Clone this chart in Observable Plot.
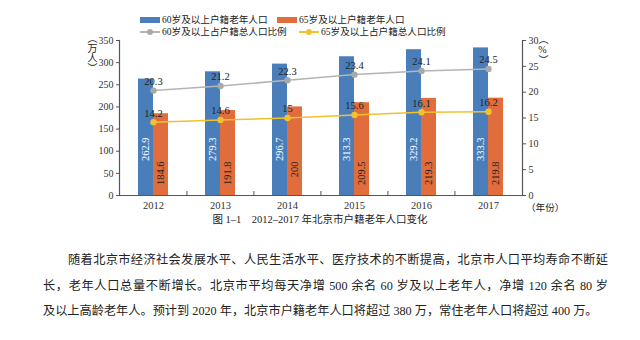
<!DOCTYPE html>
<html><head><meta charset="utf-8">
<script src="https://cdn.jsdelivr.net/npm/d3@7"></script>
<script src="https://cdn.jsdelivr.net/npm/@observablehq/plot@0.6"></script>
<style>
body{margin:0;background:#fff;width:640px;height:340px;position:relative;overflow:hidden;font-family:"Liberation Serif","Noto Sans CJK SC",serif;color:#222}
.abs{position:absolute;white-space:nowrap}
.leg{font-size:9.6px;line-height:12px}
.sw{position:absolute;width:20px;height:6px}
.ln{position:absolute;width:20px;height:1.5px}
.dt{position:absolute;width:6px;height:6px;border-radius:50%;left:7px;top:-2.3px}
.vert{writing-mode:vertical-rl;text-orientation:upright;font-size:10px;line-height:10px}
.para{position:absolute;left:43px;width:565px;font-size:12.2px;text-align:justify;text-align-last:justify;white-space:nowrap;color:#222}
</style></head>
<body>
<div id="chart" class="abs" style="left:0;top:0"></div>
<div id="legend"></div>
<div class="abs vert" style="left:86px;top:33px">（万人）</div>
<div class="abs vert" style="left:537px;top:34px">（%）</div>
<div class="abs" style="left:526px;top:200px;font-size:9.6px">（年份）</div>
<div class="abs" style="left:0;width:640px;top:211px;text-align:center;font-size:10.5px">图 1–1　2012–2017 年北京市户籍老年人口变化</div>
<div class="para" style="top:250px;left:68px;width:540px">随着北京市经济社会发展水平、人民生活水平、医疗技术的不断提高，北京市人口平均寿命不断延</div>
<div class="para" style="top:276px">长，老年人口总量不断增长。北京市平均每天净增 500 余名 60 岁及以上老年人，净增 120 余名 80 岁</div>
<div class="para" style="top:301px;text-align-last:left;width:auto">及以上高龄老年人。预计到 2020 年，北京市户籍老年人口将超过 380 万，常住老年人口将超过 400 万。</div>
<script>
const years = ["2012","2013","2014","2015","2016","2017"];
const pop60 = [262.9, 279.3, 296.7, 313.3, 329.2, 333.3];
const pop65 = [184.6, 191.8, 200, 209.5, 219.3, 219.8];
const pct60 = [20.3, 21.2, 22.3, 23.4, 24.1, 24.5];
const pct65 = [14.2, 14.6, 15, 15.6, 16.1, 16.2];
const seriesNames = ["60岁及以上户籍老年人口","65岁及以上户籍老年人口","60岁及以上占户籍总人口比例","65岁及以上占户籍总人口比例"];
const leftTicks = [0,50,100,150,200,250,300,350];
const rightTicks = [0,5,10,15,20,25,30];

const BLUE="#4a7ebb", ORANGE="#e06d3b", GRAY="#b4b4b4", GRAYDOT="#a9a9a9", YELLOW="#f2c12e";
const YMAX=350, PMAX=30, k=YMAX/PMAX;

const d60 = years.map((y,i)=>({year:y, v:pop60[i]}));
const d65 = years.map((y,i)=>({year:y, v:pop65[i]}));
const p60 = years.map((y,i)=>({year:y, v:pct60[i]}));
const p65 = years.map((y,i)=>({year:y, v:pct65[i]}));

const W=640, ML=119, MR=118, step=(W-ML-MR)/years.length, pad=0.553, half=step*(1-pad)/2;

const chart = Plot.plot({
  width: W, height: 215, marginTop: 40, marginBottom: 20, marginLeft: ML, marginRight: MR,
  style: {fontFamily: '"Liberation Serif","Noto Sans CJK SC",serif', fontSize: "10.5px", background: "transparent", color: "#333"},
  x: {type: "band", domain: years, paddingInner: pad, paddingOuter: pad/2, axis: null},
  y: {domain: [0, YMAX], axis: null},
  marks: [
    Plot.barY(d60, {x: "year", y: "v", fill: BLUE, insetRight: half}),
    Plot.barY(d65, {x: "year", y: "v", fill: ORANGE, insetLeft: half}),
    Plot.text(d60, {x: "year", y: () => 131, text: d => String(d.v), rotate: -90, textAnchor: "end", dx: -half/2, fill: "white", fontSize: 10.5}),
    Plot.text(d65, {x: "year", y: () => 77, text: d => String(d.v), rotate: -90, textAnchor: "end", dx: half/2, fill: "#222", fontSize: 10.5}),
    Plot.line(p60, {x: "year", y: d => d.v*k, stroke: GRAY, strokeWidth: 1.5}),
    Plot.dot(p60, {x: "year", y: d => d.v*k, r: 3.2, fill: GRAYDOT}),
    Plot.line(p65, {x: "year", y: d => d.v*k, stroke: YELLOW, strokeWidth: 1.5}),
    Plot.dot(p65, {x: "year", y: d => d.v*k, r: 3.2, fill: YELLOW}),
    Plot.text(p60, {x: "year", y: d => d.v*k, text: d => String(d.v), dy: -9, fill: "#222", fontSize: 10.5}),
    Plot.text(p65, {x: "year", y: d => d.v*k, text: d => String(d.v), dy: -9, fill: "#222", fontSize: 10.5}),
    Plot.ruleY([0], {stroke: "#555", strokeWidth: 1.2}),
    Plot.ruleX(years.slice(1), {x: d => d, dx: -step/2, y1: 0, y2: 4*YMAX/155, stroke: "#555"}),
    Plot.axisY(leftTicks, {anchor: "left", label: null, tickSize: 3, tickPadding: 3, stroke: "#555", fill: "#333", fontSize: 10}),
    Plot.axisY(rightTicks.map(v => v*k), {anchor: "right", label: null, tickSize: 3, tickPadding: 3, tickFormat: d => String(Math.round(d/k)), stroke: "#555", fill: "#333", fontSize: 10}),
    Plot.axisX({anchor: "bottom", label: null, tickSize: 0, tickPadding: 6, fill: "#333"}),
    Plot.frame({anchor: "left", stroke: "#555", strokeWidth: 1.2}),
    Plot.frame({anchor: "right", stroke: "#555", strokeWidth: 1.2})
  ]
});
document.getElementById("chart").appendChild(chart);

const leg = document.getElementById("legend");
const items = [
  {x:140, y:20, kind:"sw", color:BLUE, name:seriesNames[0]},
  {x:277, y:20, kind:"sw", color:ORANGE, name:seriesNames[1]},
  {x:140, y:32, kind:"ln", color:GRAY, dot:GRAYDOT, name:seriesNames[2]},
  {x:299, y:32, kind:"ln", color:YELLOW, dot:YELLOW, name:seriesNames[3]}
];
for (const it of items) {
  const s = document.createElement("div");
  s.className = it.kind;
  s.style.left = it.x+"px";
  s.style.background = it.color;
  s.style.top = (it.kind==="sw" ? it.y-3 : it.y-0.75)+"px";
  if (it.dot) { const d=document.createElement("div"); d.className="dt"; d.style.background=it.dot; s.appendChild(d); }
  leg.appendChild(s);
  const t = document.createElement("div");
  t.className = "abs leg";
  t.style.left = (it.x+22)+"px";
  t.style.top = (it.y-6.5)+"px";
  t.textContent = it.name;
  leg.appendChild(t);
}
</script>
</body></html>
